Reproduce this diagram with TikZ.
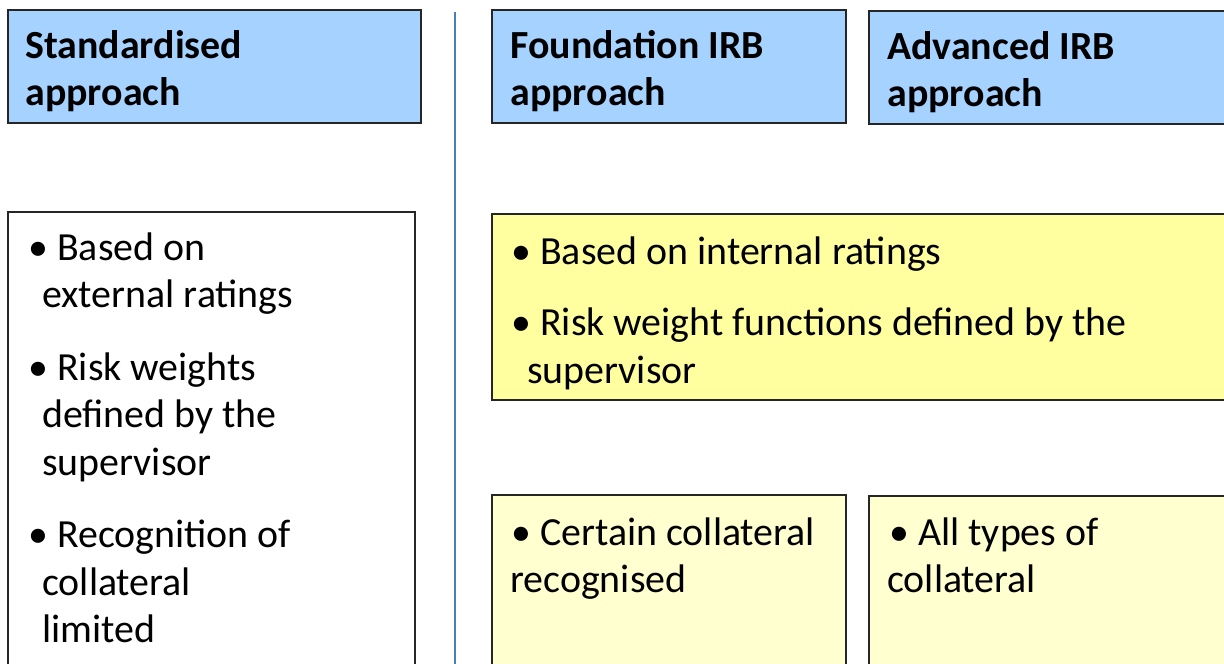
\documentclass[tikz,border=0pt]{standalone}
\usepackage{fontspec}
\setmainfont{Carlito}
\usetikzlibrary{positioning}

\definecolor{headblue}{RGB}{166,210,255}
\definecolor{irbyellow}{RGB}{255,255,160}
\definecolor{paleyellow}{RGB}{255,255,208}
\definecolor{splitblue}{RGB}{74,126,187}

\tikzset{
  box/.style={draw=black!85, line width=0.9pt},
  head/.style={font=\fontsize{22.7}{27}\selectfont\bfseries, anchor=base west, inner sep=0pt},
  body/.style={font=\fontsize{22.7}{27}\selectfont, anchor=base west, inner sep=0pt}
}

\begin{document}
\begin{tikzpicture}[x=0.02cm, y=-0.02cm]
        \clip (0,0) rectangle (1224,663);
        \fill[white] (0,0) rectangle (1224,663);

        % header boxes
        \draw[box, fill=headblue] (8,10) rectangle (421,123);
        \draw[box, fill=headblue] (492,10) rectangle (846,123);
        \draw[box, fill=headblue] (869,11) rectangle (1240,124);

        % split line
        \draw[splitblue, line width=0.6pt] (455,12) -- (455,680);

        % content boxes
        \draw[box, fill=white] (8,212) rectangle (415,690);
        \draw[box, fill=irbyellow] (492,214) rectangle (1240,400);
        \draw[box, fill=paleyellow] (492,495) rectangle (846,690);
        \draw[box, fill=paleyellow] (869,496) rectangle (1240,690);

        \foreach \x/\y/\t [count=\i] in
        {25/58/Standardised,
         25/105/approach,
         510/58/Foundation IRB,
         510/105/approach,
         887/59/Advanced IRB,
         887/106/approach
        }
        {
            \node[head] (head\i) at (\x,\y) {\t};
        };

        \foreach \x/\y/\t [count=\i] in
        {28/260/\textbullet\ Based on,
         42/307/external ratings,
         28/380/\textbullet\ Risk weights,
         42/427/defined by the,
         42/475/supervisor,
         28/547/\textbullet\ Recognition of,
         42/595/collateral,
         42/642/limited,
         511/264/\textbullet\ Based on internal ratings,
         511/335/\textbullet\ Risk weight functions defined by the,
         527/383/supervisor,
         511/545/\textbullet\ Certain collateral,
         510/592/recognised,
         889/545/\textbullet\ All types of,
         887/592/collateral
        }
        {
            \node[body] (line\i) at (\x,\y) {\t};
        };
\end{tikzpicture}
\end{document}
